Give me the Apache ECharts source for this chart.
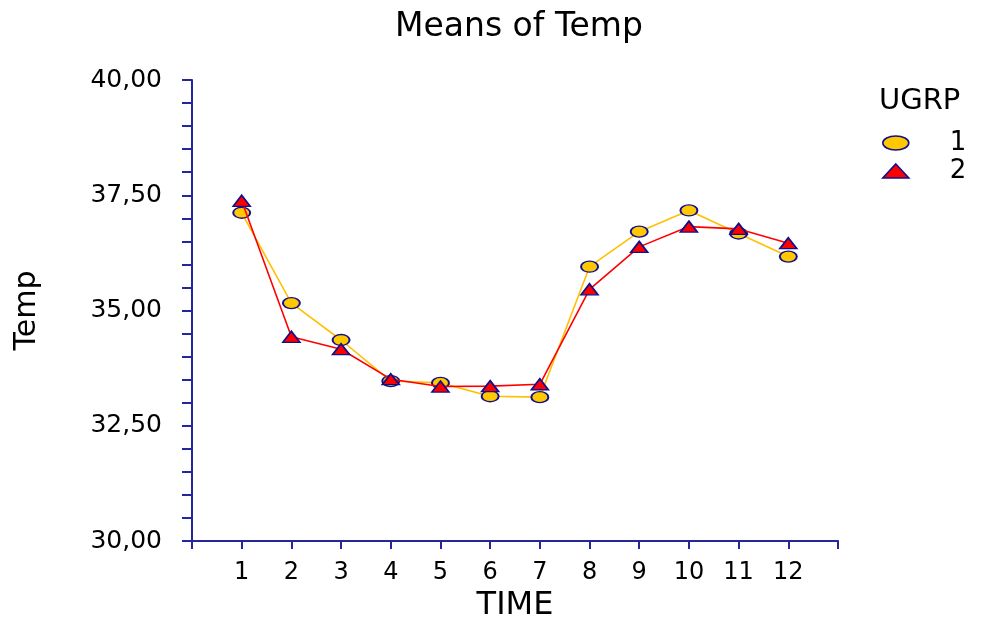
<!DOCTYPE html>
<html>
<head>
<meta charset="utf-8">
<script src="https://cdn.jsdelivr.net/npm/echarts@6/dist/echarts.min.js"></script>
<style>
html,body{margin:0;padding:0;background:#fff;}
#chart{width:983px;height:619px;}
</style>
</head>
<body>
<div id="chart"></div>
<script>
var timePoints = [1, 2, 3, 4, 5, 6, 7, 8, 9, 10, 11, 12];
var xTickLabels = ['1', '2', '3', '4', '5', '6', '7', '8', '9', '10', '11', '12'];
var yTickValues = [30, 32.5, 35, 37.5, 40];
var yTickLabels = ['30,00', '32,50', '35,00', '37,50', '40,00'];
var group1 = [37.12, 35.16, 34.36, 33.47, 33.43, 33.14, 33.12, 35.95, 36.71, 37.17, 36.67, 36.17];
var group2 = [37.38, 34.43, 34.16, 33.51, 33.35, 33.36, 33.40, 35.46, 36.38, 36.82, 36.77, 36.46];
var seriesNames = ['1', '2'];
var legendTitle = 'UGRP';
var titleText = 'Means of Temp';
var xName = 'TIME';
var yName = 'Temp';

var FONT = 'DejaVu Sans';
var AXIS = '#25259c';
var BORDER = '#10108a';
var ELLIPSE = 'path://M0,50A50,50,0,1,1,100,50A50,50,0,1,1,0,50Z';
var TRI = 'path://M50,0L100,100L0,100Z';

function pairs(vals) {
  return timePoints.map(function (t, i) { return [t, vals[i]]; });
}

var chart = echarts.init(document.getElementById('chart'), null, { renderer: 'canvas' });
chart.setOption({
  backgroundColor: '#ffffff',
  animation: false,
  title: {
    text: titleText,
    left: 390,
    top: 6,
    textStyle: { fontFamily: FONT, fontSize: 33, fontWeight: 'normal', color: '#000' }
  },
  graphic: [{
    type: 'text',
    left: 879,
    top: 87,
    style: { text: legendTitle, font: '29px "DejaVu Sans"', fill: '#000' }
  }],
  legend: {
    orient: 'vertical',
    left: 877,
    top: 125,
    itemWidth: 26,
    itemHeight: 14,
    itemGap: 2,
    symbolKeepAspect: false,
    data: [
      { name: seriesNames[0], icon: ELLIPSE, itemStyle: { color: '#ffc800', borderColor: BORDER, borderWidth: 1.6 } },
      { name: seriesNames[1], icon: TRI, itemStyle: { color: '#ff0000', borderColor: BORDER, borderWidth: 1.6 } }
    ],
    textStyle: { fontFamily: FONT, fontSize: 26, color: '#000', padding: [0, 0, 0, 36] }
  },
  grid: { left: 192, right: 145, top: 80, bottom: 78, outerBoundsMode: 'none', containLabel: false },
  xAxis: {
    type: 'value',
    min: 0,
    max: 13,
    interval: 1,
    name: xName,
    nameLocation: 'middle',
    nameGap: 45,
    nameTextStyle: { fontFamily: FONT, fontSize: 32, color: '#000' },
    axisLine: { show: true, lineStyle: { color: AXIS, width: 2 } },
    axisTick: { show: true, inside: false, length: 8, lineStyle: { color: AXIS, width: 2 } },
    axisLabel: {
      margin: 20,
      fontFamily: FONT, fontSize: 24, color: '#000',
      formatter: function (v) {
        var idx = timePoints.indexOf(v);
        return idx >= 0 ? xTickLabels[idx] : '';
      }
    },
    splitLine: { show: false }
  },
  yAxis: {
    type: 'value',
    min: 30,
    max: 40,
    interval: 0.5,
    name: yName,
    nameLocation: 'middle',
    nameGap: 150,
    nameRotate: 90,
    nameTextStyle: { fontFamily: FONT, fontSize: 30, color: '#000' },
    axisLine: { show: true, lineStyle: { color: AXIS, width: 2 } },
    axisTick: { show: true, inside: false, length: 10, lineStyle: { color: AXIS, width: 2 } },
    axisLabel: {
      margin: 30,
      fontFamily: FONT, fontSize: 25, color: '#000',
      formatter: function (v) {
        for (var i = 0; i < yTickValues.length; i++) {
          if (Math.abs(v - yTickValues[i]) < 1e-6) return yTickLabels[i];
        }
        return '';
      }
    },
    splitLine: { show: false }
  },
  series: [
    {
      name: seriesNames[0],
      type: 'line',
      data: pairs(group1),
      symbol: ELLIPSE,
      symbolKeepAspect: false,
      symbolSize: [17, 11],
      lineStyle: { color: '#ffc000', width: 1.6 },
      itemStyle: { color: '#ffc800', borderColor: BORDER, borderWidth: 1.6 },
      z: 2
    },
    {
      name: seriesNames[1],
      type: 'line',
      data: pairs(group2),
      symbol: TRI,
      symbolKeepAspect: false,
      symbolSize: [17, 11],
      lineStyle: { color: '#ff0000', width: 1.6 },
      itemStyle: { color: '#ff0000', borderColor: BORDER, borderWidth: 1.6 },
      z: 3
    }
  ]
});
</script>
</body>
</html>
